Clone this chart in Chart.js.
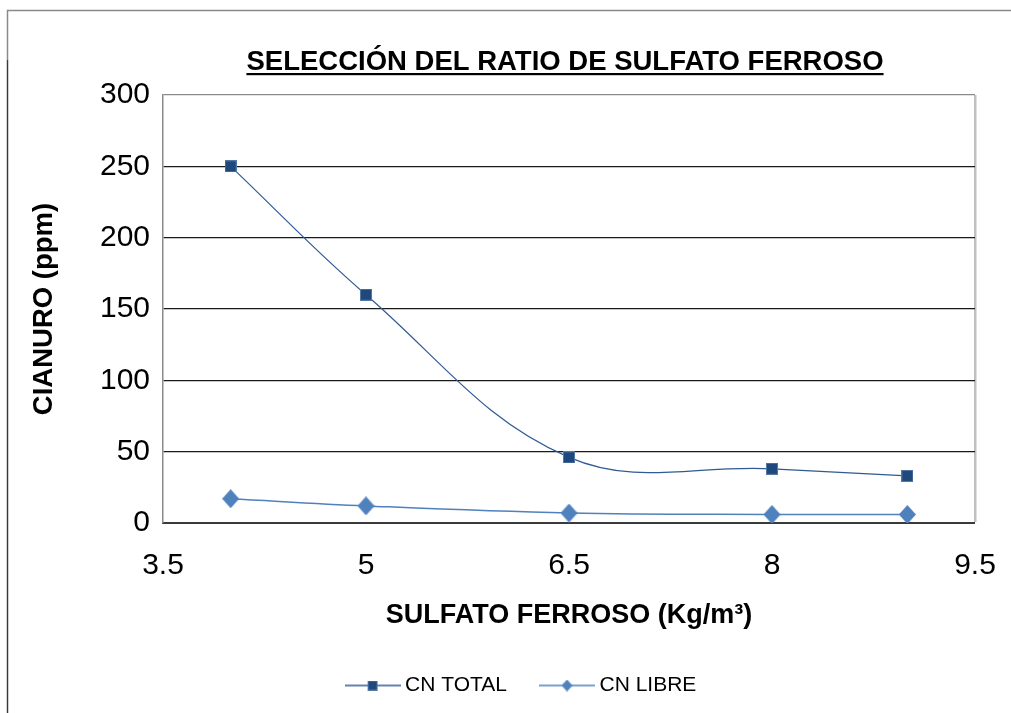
<!DOCTYPE html>
<html>
<head>
<meta charset="utf-8">
<script src="https://cdn.jsdelivr.net/npm/chart.js@4/dist/chart.umd.min.js"></script>
<style>
  html, body { margin: 0; padding: 0; background: #ffffff; }
  #wrap { width: 1011px; height: 713px; }
</style>
</head>
<body>
<div id="wrap"><canvas id="c" width="1011" height="713"></canvas></div>
<script>
// Dosis de sulfato ferroso (Kg/m³) y cianuro residual (ppm)
const chartTitle = 'SELECCIÓN DEL RATIO DE SULFATO FERROSO';
const xTitle = 'SULFATO FERROSO (Kg/m³)';
const yTitle = 'CIANURO (ppm)';
const sulfato = [4, 5, 6.5, 8, 9];
const cnTotal = [250, 160, 46, 38, 33];
const cnLibre = [17, 12, 7, 6, 6];
const seriesNames = ['CN TOTAL', 'CN LIBRE'];
const xTicks = [3.5, 5, 6.5, 8, 9.5];
const yTicks = [0, 50, 100, 150, 200, 250, 300];

const FONT = "'Liberation Sans', Arial, sans-serif";
const DARK = '#1f497d';
const LIGHT = '#4f81bd';

// Marker shapes drawn onto small canvases
function squareMarker(size) {
  const c = document.createElement('canvas');
  c.width = size; c.height = size;
  const g = c.getContext('2d');
  g.fillStyle = DARK;
  g.fillRect(0, 0, size, size);
  g.strokeStyle = 'rgba(120,150,190,0.6)';
  g.lineWidth = 1;
  g.strokeRect(0.5, 0.5, size - 1, size - 1);
  return c;
}
function diamondMarker(w, h) {
  const c = document.createElement('canvas');
  c.width = w; c.height = h;
  const g = c.getContext('2d');
  g.fillStyle = LIGHT;
  g.beginPath();
  g.moveTo(w / 2, 0);
  g.lineTo(w, h / 2);
  g.lineTo(w / 2, h);
  g.lineTo(0, h / 2);
  g.closePath();
  g.fill();
  return c;
}
// Legend sample: short line with the marker in the middle
function legendSample(lineColor, marker) {
  const w = 56, h = Math.max(marker.height, 4);
  const c = document.createElement('canvas');
  c.width = w; c.height = h;
  const g = c.getContext('2d');
  g.strokeStyle = lineColor;
  g.lineWidth = 1.3;
  g.beginPath();
  g.moveTo(0, h / 2);
  g.lineTo(w, h / 2);
  g.stroke();
  g.drawImage(marker, (w - marker.width) / 2, (h - marker.height) / 2);
  return c;
}

const sqPoint = squareMarker(12);
const dmPoint = diamondMarker(17, 19);
const sqLegend = legendSample('#2f5a94', squareMarker(10));
const dmLegend = legendSample(LIGHT, diamondMarker(11, 12));

// Outer frame, plot title with underline, legend offset
const decorations = {
  id: 'decorations',
  beforeDraw(chart) {
    const ctx = chart.ctx;
    ctx.save();
    ctx.fillStyle = '#ffffff';
    ctx.fillRect(0, 0, chart.width, chart.height);
    ctx.strokeStyle = '#8a8a8a';
    ctx.lineWidth = 1.5;
    ctx.beginPath();
    ctx.moveTo(7.5, chart.height);
    ctx.lineTo(7.5, 10.5);
    ctx.lineTo(chart.width, 10.5);
    ctx.stroke();
    ctx.strokeStyle = '#3a3a3a';
    ctx.lineWidth = 1.2;
    ctx.beginPath();
    ctx.moveTo(7.5, chart.height);
    ctx.lineTo(7.5, 60);
    ctx.stroke();
    ctx.restore();
  },
  afterDraw(chart) {
    const ctx = chart.ctx;
    ctx.save();
    ctx.font = 'bold 27.5px ' + FONT;
    ctx.fillStyle = '#000000';
    ctx.textAlign = 'center';
    ctx.textBaseline = 'alphabetic';
    const cx = 565, base = 70;
    ctx.fillText(chartTitle, cx, base);
    const w = ctx.measureText(chartTitle).width;
    ctx.fillRect(cx - w / 2, base + 3, w, 2.2);
    ctx.restore();
  },
  afterUpdate(chart) {
    const lg = chart.legend;
    if (lg) { lg.left += 36; lg.right += 36; }
  }
};

new Chart(document.getElementById('c'), {
  type: 'line',
  data: {
    datasets: [
      {
        label: seriesNames[0],
        data: sulfato.map((x, i) => ({ x, y: cnTotal[i] })),
        borderColor: '#2f5a94',
        backgroundColor: DARK,
        borderWidth: 1.2,
        tension: 0.38,
        pointStyle: sqPoint,
        pointRadius: 6,
        legendImage: sqLegend
      },
      {
        label: seriesNames[1],
        data: sulfato.map((x, i) => ({ x, y: cnLibre[i] })),
        borderColor: LIGHT,
        backgroundColor: LIGHT,
        borderWidth: 1.5,
        tension: 0.38,
        pointStyle: dmPoint,
        pointRadius: 9,
        legendImage: dmLegend
      }
    ]
  },
  options: {
    responsive: false,
    animation: false,
    events: [],
    layout: { padding: { left: 0, top: 95, right: 36, bottom: 7 } },
    scales: {
      x: {
        type: 'linear',
        min: xTicks[0],
        max: xTicks[xTicks.length - 1],
        afterBuildTicks(scale) { scale.ticks = xTicks.map(v => ({ value: v })); },
        afterFit(scale) { scale.height = 114; scale.paddingLeft = 0; scale.paddingRight = 0; },
        ticks: {
          color: '#000000',
          font: { family: FONT, size: 30 },
          padding: 25,
          maxRotation: 0,
          callback: v => String(v)
        },
        grid: {
          drawTicks: false,
          color: ctx => (ctx.tick && ctx.tick.value === xTicks[xTicks.length - 1]) ? '#c0c0c0' : 'rgba(0,0,0,0)',
          lineWidth: ctx => (ctx.tick && ctx.tick.value === xTicks[xTicks.length - 1]) ? 2.5 : 0
        },
        border: { display: true, color: '#3a3a3a', width: 2 },
        title: {
          display: true,
          text: xTitle,
          color: '#000000',
          font: { family: FONT, size: 27, weight: 'bold' },
          padding: { top: 0, bottom: 5 }
        }
      },
      y: {
        min: yTicks[0],
        max: yTicks[yTicks.length - 1],
        afterBuildTicks(scale) { scale.ticks = yTicks.map(v => ({ value: v })); },
        afterFit(scale) { scale.width = 163; },
        ticks: {
          color: '#000000',
          font: { family: FONT, size: 30 },
          padding: 13
        },
        grid: {
          drawTicks: false,
          color: ctx => {
            const v = ctx.tick ? ctx.tick.value : null;
            if (v === yTicks[yTicks.length - 1]) return '#8a8a8a';
            if (v === yTicks[0]) return 'rgba(0,0,0,0)';
            return '#1a1a1a';
          },
          lineWidth: 1.2
        },
        border: { display: true, color: '#8a8a8a', width: 1.5 },
        title: {
          display: true,
          text: yTitle,
          color: '#000000',
          font: { family: FONT, size: 27.5, weight: 'bold' },
          padding: { top: 28, bottom: 0 }
        }
      }
    },
    plugins: {
      title: { display: false },
      tooltip: { enabled: false },
      legend: {
        display: true,
        position: 'bottom',
        labels: {
          color: '#000000',
          font: { family: FONT, size: 21 },
          usePointStyle: true,
          pointStyleWidth: 44,
          padding: 38,
          generateLabels(chart) {
            return chart.data.datasets.map((ds, i) => ({
              text: ds.label,
              pointStyle: ds.legendImage,
              fillStyle: ds.backgroundColor,
              strokeStyle: ds.borderColor,
              lineWidth: 0,
              hidden: false,
              datasetIndex: i
            }));
          }
        }
      }
    }
  },
  plugins: [decorations]
});
</script>
</body>
</html>
